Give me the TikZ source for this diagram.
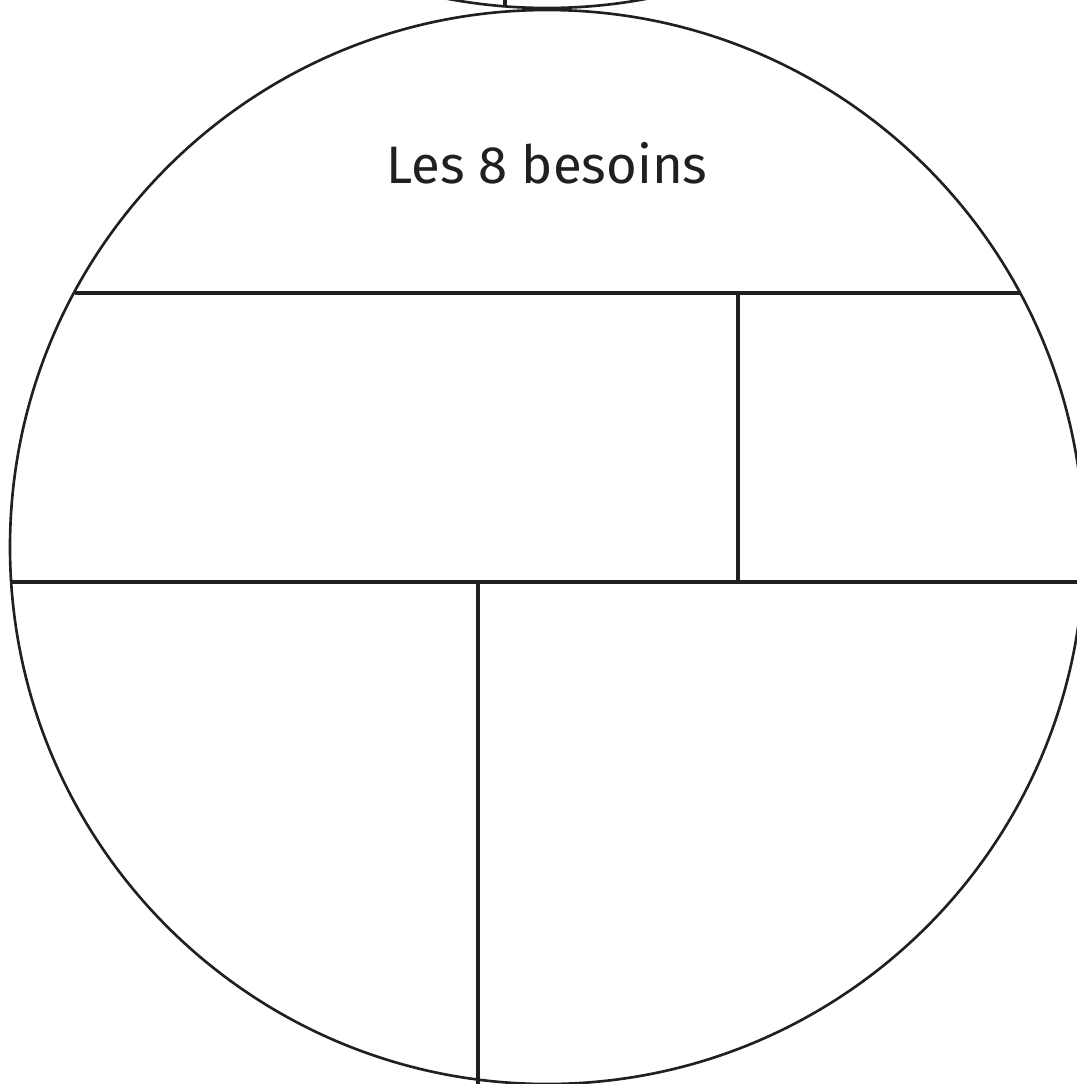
\documentclass[tikz,border=0pt]{standalone}
\usepackage{fontspec}
\setmainfont{Fira Sans}
\usetikzlibrary{positioning, calc}
\definecolor{mydark}{RGB}{35,31,32}
\tikzset{
  rim/.style={draw=mydark, line width=0.75pt},
  divider/.style={draw=mydark, line width=1pt},
  title/.style={font=\fontsize{15}{18}\selectfont, text=mydark}
}
\begin{document}
\begin{tikzpicture}[x=0.1mm, y=-0.1mm]
  \useasboundingbox (0,0) rectangle (1077,1084);
  \clip (0,0) rectangle (1077,1084);
  % centres of the two discs
  \coordinate (c) at (547,547);
  \coordinate (cup) at (547,-529);
  % disc above, only its lower rim shows
  \draw[rim] (cup) circle[radius=537];
  \draw[divider] (505,-20) -- (505,7);
  % main disc
  \draw[rim] (c) circle[radius=537];
  \node[title] (head) at (547,163) {Les 8 besoins};
  % rows and columns
  \coordinate (r1l) at (75,293);
  \coordinate (r1r) at (1020,293);
  \coordinate (r2l) at (12,582);
  \coordinate (r2r) at (1090,582);
  \draw[divider] (r1l) -- (r1r);
  \draw[divider] (r2l) -- (r2r);
  \draw[divider] (738,293) -- (738,582);
  \draw[divider] (478,582) -- (478,1084);
\end{tikzpicture}
\end{document}
